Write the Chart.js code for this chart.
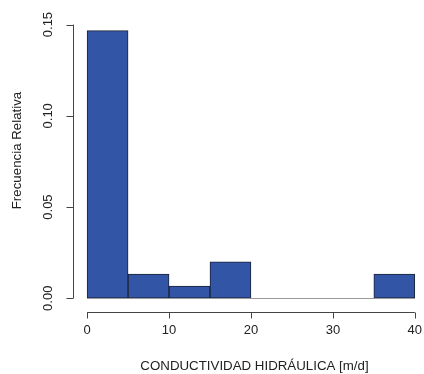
<!DOCTYPE html>
<html>
<head>
<meta charset="utf-8">
<script src="https://cdn.jsdelivr.net/npm/chart.js@4.4.0/dist/chart.umd.min.js"></script>
<style>
  html, body { margin: 0; padding: 0; background: #fff; }
  #wrap { width: 424px; height: 374px; }
</style>
</head>
<body>
<div id="wrap"><canvas id="histChart" width="424" height="374"></canvas></div>
<script>
// histogram bins (midpoints) and relative frequency (density)
var binMids = [2.5, 7.5, 12.5, 17.5, 22.5, 27.5, 32.5, 37.5];
var density = [0.1467, 0.0133, 0.0067, 0.02, 0, 0, 0, 0.0133];

var xTicks = [0, 10, 20, 30, 40];
var yTicks = [0, 0.05, 0.10, 0.15];
var yTickLabels = ["0.00", "0.05", "0.10", "0.15"];

var xTitle = "CONDUCTIVIDAD HIDRÁULICA [m/d]";
var yTitle = "Frecuencia Relativa";

var FONT = "13px 'Liberation Sans', Arial, sans-serif";
var TITLE_FONT = "13.3px 'Liberation Sans', Arial, sans-serif";

// R style axes, drawn from the chart's own scales
var rAxes = {
  id: "rAxes",
  afterDatasetsDraw: function (chart) {
    var c = chart.ctx;
    var xs = chart.scales.x, ys = chart.scales.y;
    var area = chart.chartArea;
    c.save();

    // base line under the bars
    c.strokeStyle = "#999";
    c.lineWidth = 1;
    c.beginPath();
    c.moveTo(xs.getPixelForValue(0), Math.round(ys.getPixelForValue(0)) + 0.5);
    c.lineTo(xs.getPixelForValue(40), Math.round(ys.getPixelForValue(0)) + 0.5);
    c.stroke();

    c.strokeStyle = "#444";
    c.fillStyle = "#222";
    c.font = FONT;

    // x axis
    var yAx = Math.round(area.bottom) + 3.5;
    c.beginPath();
    c.moveTo(xs.getPixelForValue(xTicks[0]), yAx);
    c.lineTo(xs.getPixelForValue(xTicks[xTicks.length - 1]), yAx);
    xTicks.forEach(function (t) {
      var px = Math.round(xs.getPixelForValue(t)) + 0.5;
      c.moveTo(px, yAx);
      c.lineTo(px, yAx + 6);
    });
    c.stroke();
    c.textAlign = "center";
    c.textBaseline = "middle";
    xTicks.forEach(function (t) {
      c.fillText(String(t), xs.getPixelForValue(t), yAx + 18);
    });

    // y axis
    var xAx = Math.round(area.left) - 0.5;
    c.beginPath();
    c.moveTo(xAx, ys.getPixelForValue(yTicks[0]));
    c.lineTo(xAx, ys.getPixelForValue(yTicks[yTicks.length - 1]));
    yTicks.forEach(function (t) {
      var py = Math.round(ys.getPixelForValue(t)) + 0.5;
      c.moveTo(xAx, py);
      c.lineTo(xAx - 7, py);
    });
    c.stroke();
    yTicks.forEach(function (t, i) {
      c.save();
      c.translate(xAx - 25, ys.getPixelForValue(t));
      c.rotate(-Math.PI / 2);
      c.fillText(yTickLabels[i], 0, 0);
      c.restore();
    });

    // axis titles
    c.font = TITLE_FONT;
    c.fillText(xTitle, (area.left + area.right) / 2 + 6, yAx + 54);
    c.save();
    c.translate(17, (area.top + area.bottom) / 2 - 14);
    c.rotate(-Math.PI / 2);
    c.fillText(yTitle, 0, 0);
    c.restore();

    c.restore();
  }
};

new Chart(document.getElementById("histChart"), {
  type: "bar",
  data: {
    datasets: [{
      data: binMids.map(function (m, i) { return { x: m, y: density[i] }; }),
      backgroundColor: "#3355A5",
      borderColor: "#1c2236",
      borderWidth: 1,
      borderSkipped: false,
      barPercentage: 1,
      categoryPercentage: 1
    }]
  },
  options: {
    responsive: false,
    animation: false,
    layout: { padding: { left: 74, right: 1, top: 20, bottom: 65 } },
    plugins: { legend: { display: false }, tooltip: { enabled: false } },
    scales: {
      x: { type: "linear", offset: false, min: -1.6, max: 41.0, display: false },
      y: { type: "linear", min: -0.00587, max: 0.1525, display: false }
    }
  },
  plugins: [rAxes]
});
</script>
</body>
</html>
